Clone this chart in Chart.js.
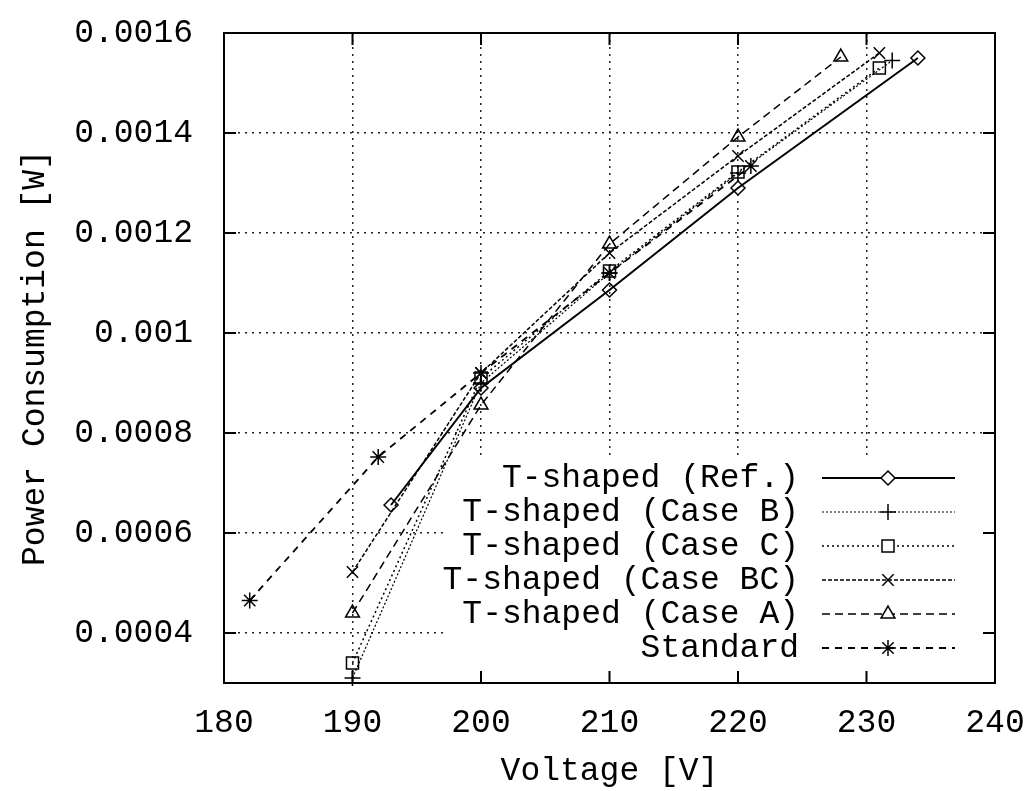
<!DOCTYPE html>
<html>
<head>
<meta charset="utf-8">
<title>Power Consumption vs Voltage</title>
<script src="https://cdn.jsdelivr.net/npm/chart.js@4/dist/chart.umd.min.js"></script>
<style>
html, body { margin: 0; padding: 0; background: #fff; }
</style>
</head>
<body>
<canvas id="powerChart" width="1031" height="791"></canvas>
<script>
// tick values
const xTicks = [180, 190, 200, 210, 220, 230, 240];
const yTicks = [0.0004, 0.0006, 0.0008, 0.001, 0.0012, 0.0014, 0.0016];

// series names (legend order)
const seriesNames = ['T-shaped (Ref.)', 'T-shaped (Case B)', 'T-shaped (Case C)',
                     'T-shaped (Case BC)', 'T-shaped (Case A)', 'Standard'];

// voltage [V] / power [W]
const refV = [193, 200, 210, 220, 234];
const refP = [0.000656, 0.00089, 0.001086, 0.00129, 0.00155];

const caseBV = [190, 200, 210, 220, 232];
const caseBP = [0.00031, 0.0009, 0.00112, 0.00132, 0.001545];

const caseCV = [190, 200, 210, 220, 231];
const caseCP = [0.00034, 0.00091, 0.001124, 0.001322, 0.00153];

const caseBCV = [190, 200, 210, 220, 231];
const caseBCP = [0.000522, 0.00092, 0.00116, 0.001354, 0.00156];

const caseAV = [190, 200, 210, 220, 228];
const caseAP = [0.00044, 0.000856, 0.001178, 0.001392, 0.001552];

const stdV = [182, 192, 200, 210, 221];
const stdP = [0.000465, 0.000752, 0.00092, 0.00112, 0.001334];

const toPoints = (xs, ys) => xs.map((x, i) => ({ x: x, y: ys[i] }));

const FONT = "'Liberation Mono', 'DejaVu Sans Mono', monospace";
Chart.defaults.font.family = FONT;
Chart.defaults.font.size = 33;
Chart.defaults.color = '#000';

// line + marker look for every series
function series(label, xs, ys, dash, width, style, radius) {
    return {
        label: label,
        data: toPoints(xs, ys),
        showLine: true,
        borderColor: '#000',
        borderWidth: width,
        borderDash: dash,
        pointStyle: style,
        pointRadius: radius,
        pointHoverRadius: radius,
        pointBorderWidth: 1.5,
        pointBorderColor: '#000',
        pointBackgroundColor: 'rgba(0,0,0,0)',
        clip: false
    };
}

// keep the layout padding exact (tick label overhang would push the plot in)
function noOverhang(s) {
    s.paddingTop = 0;
    s.paddingBottom = 0;
    s.paddingLeft = 0;
    s.paddingRight = 0;
}

// legend drawn inside the plot, lower right, on a white patch
const insideLegend = {
    id: 'insideLegend',
    beforeDatasetsDraw(chart) {
        const { ctx, chartArea: a } = chart;
        ctx.save();
        ctx.fillStyle = '#fff';
        ctx.fillRect(a.left + 219, a.top + 422, a.right - a.left - 219, a.bottom - a.top - 422);
        ctx.restore();
    },
    afterDatasetsDraw(chart) {
        const { ctx, chartArea: a } = chart;
        ctx.save();
        ctx.font = '33px ' + FONT;
        ctx.textAlign = 'right';
        ctx.textBaseline = 'middle';
        chart.data.datasets.forEach((ds, i) => {
            const y = a.top + 445 + i * 34;
            ctx.fillStyle = '#000';
            ctx.fillText(ds.label, a.right - 196, y);
            ctx.strokeStyle = '#000';
            ctx.lineWidth = ds.borderWidth;
            ctx.setLineDash(ds.borderDash || []);
            ctx.beginPath();
            ctx.moveTo(a.right - 173, y);
            ctx.lineTo(a.right - 40, y);
            ctx.stroke();
            ctx.setLineDash([]);
            ctx.fillStyle = '#fff';
            ctx.lineWidth = 1.5;
            if (Chart.helpers && Chart.helpers.drawPoint) {
                Chart.helpers.drawPoint(ctx, { pointStyle: ds.pointStyle, radius: ds.pointRadius, borderWidth: 1.5, rotation: 0 }, a.right - 107, y);
            }
        });
        ctx.restore();
    }
};

// solid frame all round with short inner ticks
const frame = {
    id: 'frame',
    afterDraw(chart) {
        const { ctx, chartArea: a, scales } = chart;
        ctx.save();
        ctx.strokeStyle = '#000';
        ctx.lineWidth = 2;
        ctx.setLineDash([]);
        ctx.strokeRect(a.left, a.top, a.right - a.left, a.bottom - a.top);
        ctx.beginPath();
        xTicks.forEach(v => {
            const px = scales.x.getPixelForValue(v);
            ctx.moveTo(px, a.bottom); ctx.lineTo(px, a.bottom - 12);
            ctx.moveTo(px, a.top); ctx.lineTo(px, a.top + 12);
        });
        yTicks.forEach(v => {
            const py = scales.y.getPixelForValue(v);
            ctx.moveTo(a.left, py); ctx.lineTo(a.left + 12, py);
            ctx.moveTo(a.right, py); ctx.lineTo(a.right - 12, py);
        });
        ctx.stroke();
        ctx.restore();
    }
};

const ctx = document.getElementById('powerChart').getContext('2d');

new Chart(ctx, {
    type: 'scatter',
    data: {
        datasets: [
            series(seriesNames[0], refV, refP, [], 2, 'rectRot', 7),
            series(seriesNames[1], caseBV, caseBP, [2, 2], 1.2, 'cross', 8),
            series(seriesNames[2], caseCV, caseCP, [2, 3], 1.5, 'rect', 8.5),
            series(seriesNames[3], caseBCV, caseBCP, [4, 2], 1.5, 'crossRot', 8),
            series(seriesNames[4], caseAV, caseAP, [8, 5], 1.5, 'triangle', 8),
            series(seriesNames[5], stdV, stdP, [7, 6], 1.8, 'star', 8)
        ]
    },
    options: {
        responsive: false,
        animation: false,
        devicePixelRatio: 1,
        layout: { padding: { left: 0, right: 36, top: 33, bottom: 0 } },
        plugins: {
            legend: { display: false },
            tooltip: { enabled: false }
        },
        scales: {
            x: {
                type: 'linear',
                min: 180,
                max: 240,
                afterBuildTicks: s => { s.ticks = xTicks.map(v => ({ value: v })); },
                afterFit: s => { s.height = 108; noOverhang(s); },
                grid: { color: '#222', lineWidth: 1.5, drawTicks: false },
                border: { display: false, dash: [2, 5] },
                ticks: { color: '#000', padding: 20, maxRotation: 0, autoSkip: false, callback: v => String(v) },
                title: { display: true, text: 'Voltage [V]', color: '#000', padding: { top: 0, bottom: 0 } }
            },
            y: {
                type: 'linear',
                min: 0.0003,
                max: 0.0016,
                afterBuildTicks: s => { s.ticks = yTicks.map(v => ({ value: v })); },
                afterFit: s => { s.width = 224; noOverhang(s); },
                grid: { color: '#222', lineWidth: 1.5, drawTicks: false },
                border: { display: false, dash: [2, 5] },
                ticks: { color: '#000', padding: 31, autoSkip: false, callback: v => String(v) },
                title: { display: true, text: 'Power Consumption [W]', color: '#000', padding: { top: 15, bottom: 0 } }
            }
        }
    },
    plugins: [insideLegend, frame]
});
</script>
</body>
</html>
